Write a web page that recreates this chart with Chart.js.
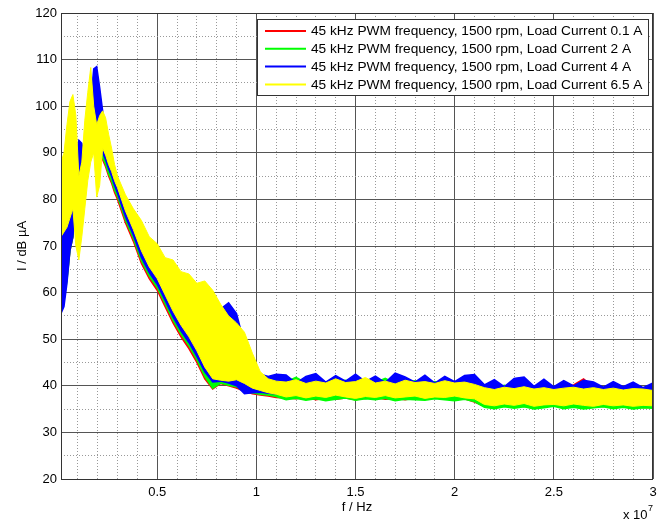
<!DOCTYPE html>
<html>
<head>
<meta charset="utf-8">
<script src="https://cdn.jsdelivr.net/npm/chart.js@4.4.1/dist/chart.umd.min.js"></script>
<style>
  html, body { margin: 0; padding: 0; background: #fff; }
  canvas { display: block; }
</style>
</head>
<body>
<canvas id="spectrumChart" width="667" height="523"></canvas>
<script>
// frequency in units of 1e7 Hz (axis shows "x 10^7")
const freq = [
  0.015, 0.03, 0.045, 0.06, 0.075, 0.09, 0.105, 0.12, 0.135, 0.15, 0.165, 0.18, 0.195, 0.21, 0.225, 0.24, 0.255, 0.27, 0.285, 0.30,
  0.34, 0.38, 0.42, 0.46, 0.50, 0.54, 0.58, 0.62, 0.66, 0.70, 0.74, 0.78, 0.82, 0.86, 0.90, 0.94, 0.98, 1.02, 1.06, 1.10,
  1.15, 1.20, 1.25, 1.30, 1.35, 1.40, 1.45, 1.50, 1.55, 1.60, 1.65, 1.70, 1.75, 1.80, 1.85, 1.90, 1.95, 2.00, 2.05,
  2.10, 2.15, 2.20, 2.25, 2.30, 2.35, 2.40, 2.45, 2.50, 2.55, 2.60, 2.65, 2.70, 2.75, 2.80, 2.85, 2.90, 2.95, 3.00
];

// each measurement is a noisy trace, drawn as band between its min and max (dB µA)
const red01Hi = [
  62, 70, 75, 77, 82, 87, 90, 90, 88, 94, 99, 101, 99, 97, 94, 91, 88, 86, 84, 82,
  77, 73, 68.5, 65.5, 63, 60, 57, 54, 51.5, 49, 46, 44, 45, 44, 43, 42, 41, 40.5, 40.2, 40,
  40.6, 40.2, 40.8, 40.4, 40.7, 40.3, 40.9, 40.5, 40.4, 40.8, 40.3, 40.6, 40.5, 40.9, 40.2, 40.6, 40.4, 40.7, 40.5,
  40.3, 39.6, 39.8, 39.4, 39.9, 39.5, 39.7, 39.3, 39.8, 39.6, 40.2, 41.5, 39.7, 39.4, 39.6, 39.3, 39.5, 39.2, 39.4
];
const red01Lo = [
  57, 59, 63, 69, 72, 80, 84, 85, 86, 89, 92, 95, 96, 90, 88.5, 87, 85, 83.5, 81.5, 80,
  75, 71, 66.3, 63, 60.5, 57, 53.5, 50.5, 48, 45, 41.5, 39.3, 40.5, 40, 39.5, 38.8, 38.3, 38, 37.8, 37.5,
  37.4, 37.2, 37.5, 37.0, 37.3, 37.1, 37.4, 37.0, 37.3, 37.5, 37.1, 37.3, 37.0, 37.4, 37.2, 37.5, 37.1, 37.3, 37.2,
  36.5, 35.6, 35.3, 35.7, 35.4, 35.6, 35.2, 35.5, 35.7, 35.3, 35.5, 35.2, 35.4, 35.6, 35.3, 35.5, 35.2, 35.4, 35.3
];
const green2Hi = [
  60, 69, 74, 76, 81, 86, 89, 89, 87, 93, 98, 100, 98, 96, 93, 90, 87.5, 85.5, 83.5, 81.5,
  76.5, 72.5, 68, 65, 62.5, 59.5, 56.5, 53.5, 51, 48.5, 45.5, 43.5, 44, 43.5, 42.5, 41.5, 41, 41.2, 40.8, 40.5,
  40.9, 41.8, 40.6, 41.0, 40.5, 40.9, 41.2, 40.6, 41.3, 40.7, 41.6, 40.5, 40.8, 41.1, 40.6, 40.9, 40.4, 40.8, 40.6,
  40.4, 39.8, 39.5, 40.1, 39.6, 39.9, 39.4, 40.0, 39.5, 40.4, 39.7, 39.6, 40.0, 39.5, 39.8, 39.4, 39.6, 39.5, 39.3
];
const green2Lo = [
  56.5, 58.5, 62.5, 69, 72, 80, 84, 85, 86, 89, 92, 95, 96.5, 90.5, 89, 87.5, 85.5, 84, 82, 80.6,
  75.6, 71.6, 66.9, 63.6, 61.1, 57.6, 54.1, 51.1, 48.6, 45.6, 42, 39.5, 40.6, 40.1, 39.8, 39, 38.5, 38.2, 38, 37.7,
  37.0, 37.3, 36.9, 37.2, 36.8, 37.1, 37.4, 36.9, 37.2, 37.0, 37.3, 36.8, 37.1, 37.0, 36.9, 37.2, 37.0, 36.8, 37.1,
  36.6, 35.4, 35.1, 35.5, 35.2, 35.5, 35.0, 35.3, 35.6, 35.1, 35.4, 35.0, 35.3, 35.5, 35.1, 35.4, 35.0, 35.3, 35.2
];
const blue4Hi = [
  72, 75, 78, 78, 84, 90, 92.7, 92, 89, 96, 101, 108, 108.5, 104, 99, 94, 91, 88, 85, 83,
  78, 74, 70, 67, 64.5, 62, 59.5, 57, 55, 53, 51, 52, 56.5, 57.8, 55.5, 49, 44, 42.5, 42, 42.5,
  42.3, 40.6, 42.0, 42.6, 40.8, 42.2, 41.0, 42.5, 40.9, 42.1, 40.7, 42.7, 41.9, 40.8, 42.3, 40.6, 42.0, 40.9, 42.2,
  42.4, 40.2, 41.3, 39.8, 41.6, 41.9, 39.9, 41.4, 39.8, 41.1, 40.0, 41.2, 40.8, 39.7, 40.9, 39.8, 40.8, 39.6, 40.6
];
const blue4Lo = [
  55.5, 57, 62, 69, 72, 80, 84, 85, 86, 89, 90, 95, 97, 92, 90, 88.5, 86.5, 85, 83, 81.3,
  76.3, 72.3, 67.6, 64.3, 61.8, 58.3, 54.8, 51.8, 49.3, 46.3, 43, 40.8, 41, 40.6, 40, 38.3, 38.5, 38.6, 38.4, 38.3,
  38.3, 38.5, 38.2, 38.4, 38.1, 38.3, 38.6, 38.2, 38.4, 38.1, 38.3, 38.5, 38.2, 38.4, 38.3, 38.1, 38.4, 38.2, 38.3,
  37.9, 36.8, 36.6, 36.9, 36.7, 36.8, 36.5, 36.9, 36.7, 36.6, 36.8, 36.5, 36.7, 36.9, 36.6, 36.8, 36.5, 36.7, 36.6
];
const yellow65Hi = [
  88, 90, 96, 101, 102.5, 98, 85, 88, 97, 103, 108.3, 100, 96, 98, 99, 97.5, 94, 91, 87.5, 85,
  81, 78, 75.5, 72, 70.5, 67.5, 67, 64.5, 64, 62, 62.5, 60.5, 57.5, 55, 53.5, 51.5, 47, 43, 41.5, 41,
  40.8, 41.3, 40.5, 41.0, 40.6, 41.5, 40.7, 40.9, 41.8, 40.6, 41.0, 40.4, 41.2, 40.7, 40.9, 40.5, 41.1, 40.6, 40.8,
  40.3, 39.6, 39.2, 39.7, 39.4, 39.8, 39.3, 39.6, 39.2, 39.5, 39.7, 39.3, 39.6, 39.2, 39.5, 39.1, 39.4, 39.3, 39.0
];
const yellow65Lo = [
  72, 73, 74, 76, 78, 70, 67, 72, 78, 84, 88, 90, 80.5, 83, 91, 89.5, 87.5, 86, 84, 82.5,
  77.5, 73.5, 69, 65.5, 63, 59.5, 56, 53, 50.5, 47.5, 44, 41.5, 41.2, 41, 41.3, 40.5, 39.5, 39, 38.5, 38.2,
  37.6, 37.9, 37.4, 37.8, 37.5, 38.0, 37.6, 37.3, 37.7, 37.5, 37.9, 37.4, 37.6, 37.8, 37.3, 37.6, 37.5, 37.8, 37.4,
  37.2, 36.0, 35.7, 36.1, 35.8, 36.2, 35.6, 35.9, 36.0, 35.7, 36.1, 35.8, 35.6, 36.0, 35.7, 35.9, 35.6, 35.8, 35.7
];

const seriesLabels = [
  "45 kHz PWM frequency, 1500 rpm, Load Current 0.1 A",
  "45 kHz PWM frequency, 1500 rpm, Load Current 2 A",
  "45 kHz PWM frequency, 1500 rpm, Load Current 4 A",
  "45 kHz PWM frequency, 1500 rpm, Load Current 6.5 A"
];
const seriesColors = ["#ff0000", "#00ff00", "#0000ff", "#ffff00"];

// grid: minor every 0.1 / 5 dB, labels on majors
const xGridTicks = [0.1, 0.2, 0.3, 0.4, 0.5, 0.6, 0.7, 0.8, 0.9, 1.0, 1.1, 1.2, 1.3, 1.4, 1.5,
  1.6, 1.7, 1.8, 1.9, 2.0, 2.1, 2.2, 2.3, 2.4, 2.5, 2.6, 2.7, 2.8, 2.9, 3.0];
const xLabelTicks = [0.5, 1, 1.5, 2, 2.5, 3];
const yGridTicks = [20, 25, 30, 35, 40, 45, 50, 55, 60, 65, 70, 75, 80, 85, 90, 95, 100, 105, 110, 115, 120];
const yLabelTicks = [20, 30, 40, 50, 60, 70, 80, 90, 100, 110, 120];

[red01Hi, red01Lo, green2Hi, green2Lo, blue4Hi, blue4Lo, yellow65Hi, yellow65Lo].forEach((a, i) => {
  if (a.length !== freq.length) throw new Error("array " + i + " has " + a.length + " values");
});

const FONT = "'Liberation Sans', Arial, Helvetica, sans-serif";
const isIn = (list, v) => list.some(t => Math.abs(t - v) < 1e-6);

function band(label, color, hi, lo, order, width) {
  const pts = arr => freq.map((f, i) => ({ x: f, y: arr[i] }));
  return [
    { label: label + " min", data: pts(lo), borderColor: color, backgroundColor: color,
      borderWidth: width, pointRadius: 0, tension: 0, fill: false, order },
    { label: label, data: pts(hi), borderColor: color, backgroundColor: color,
      borderWidth: width, pointRadius: 0, tension: 0, fill: "-1", order },
  ];
}

// legend box + the "x 10^7" exponent + axes frame, MATLAB style
const matlabExtras = {
  id: "matlabExtras",
  afterDraw(chart) {
    const { ctx, chartArea: a } = chart;
    ctx.save();
    ctx.strokeStyle = "#333";
    ctx.lineWidth = 1;
    ctx.strokeRect(a.left + 0.5, a.top + 0.5, a.right - a.left - 1, a.bottom - a.top);

    // legend
    ctx.fillStyle = "#fff";
    ctx.fillRect(257, 19, 391, 76);
    ctx.strokeRect(257.5, 19.5, 391, 76);
    ctx.font = "13.7px " + FONT;
    ctx.textBaseline = "middle";
    seriesLabels.forEach((label, i) => {
      const y = 31 + i * 17.8;
      ctx.strokeStyle = seriesColors[i];
      ctx.lineWidth = 2;
      ctx.beginPath();
      ctx.moveTo(265, y);
      ctx.lineTo(306, y);
      ctx.stroke();
      ctx.fillStyle = "#000";
      ctx.fillText(label, 311, y + 0.5);
    });

    // exponent
    ctx.fillStyle = "#000";
    ctx.textBaseline = "alphabetic";
    ctx.font = "13px " + FONT;
    ctx.fillText("x 10", 623, 519);
    ctx.font = "9px " + FONT;
    ctx.fillText("7", 648, 511);
    ctx.restore();
  }
};

new Chart(document.getElementById("spectrumChart").getContext("2d"), {
  type: "line",
  data: {
    datasets: [
      ...band(seriesLabels[0], seriesColors[0], red01Hi, red01Lo, 4, 1.5),
      ...band(seriesLabels[1], seriesColors[1], green2Hi, green2Lo, 3, 1.5),
      ...band(seriesLabels[2], seriesColors[2], blue4Hi, blue4Lo, 2, 1.5),
      ...band(seriesLabels[3], seriesColors[3], yellow65Hi, yellow65Lo, 1, 1),
    ],
  },
  options: {
    responsive: false,
    animation: false,
    devicePixelRatio: 1,
    layout: { padding: { top: 13, right: 14, left: 0, bottom: 0 } },
    plugins: { legend: { display: false }, tooltip: { enabled: false } },
    scales: {
      x: {
        type: "linear",
        min: 0.015,
        max: 3,
        afterBuildTicks: s => { s.ticks = xGridTicks.map(v => ({ value: v })); },
        afterFit: s => { s.height = 44; },
        grid: {
          drawTicks: false,
          color: c => (c.tick && isIn(xLabelTicks, c.tick.value) ? "#555" : "#999"),
        },
        border: { display: false, dash: c => (c.tick && !isIn(xLabelTicks, c.tick.value) ? [1, 2] : []) },
        ticks: {
          autoSkip: false,
          maxRotation: 0,
          padding: 6,
          color: "#000",
          font: { family: FONT, size: 13 },
          callback: v => (isIn(xLabelTicks, v) ? String(v) : ""),
        },
        title: { display: true, text: "f / Hz", color: "#000", font: { family: FONT, size: 13 }, padding: { top: 0, bottom: 8 } },
      },
      y: {
        min: 20,
        max: 120,
        afterBuildTicks: s => { s.ticks = yGridTicks.map(v => ({ value: v })); },
        afterFit: s => { s.width = 61; },
        grid: {
          drawTicks: false,
          color: c => (c.tick && isIn(yLabelTicks, c.tick.value) ? "#555" : "#999"),
        },
        border: { display: false, dash: c => (c.tick && !isIn(yLabelTicks, c.tick.value) ? [1, 2] : []) },
        ticks: {
          autoSkip: false,
          padding: 4,
          color: "#000",
          font: { family: FONT, size: 13 },
          callback: v => (isIn(yLabelTicks, v) ? String(v) : ""),
        },
        title: { display: true, text: "I / dB µA", color: "#000", font: { family: FONT, size: 13 }, padding: { top: 15, bottom: 0 } },
      },
    },
  },
  plugins: [matlabExtras],
});
</script>
</body>
</html>
